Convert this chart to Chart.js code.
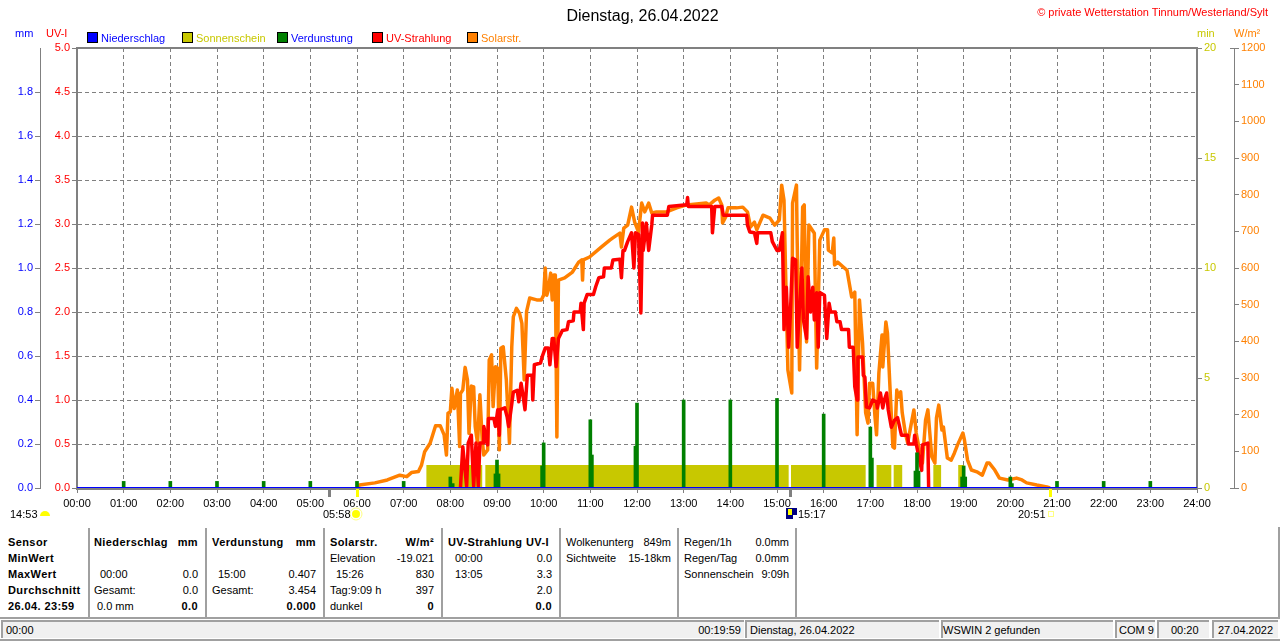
<!DOCTYPE html>
<html>
<head>
<meta charset="utf-8">
<title>Dienstag, 26.04.2022</title>
<script src="https://cdn.jsdelivr.net/npm/chart.js@4/dist/chart.umd.js"></script>
<style>
  html, body { margin: 0; padding: 0; background: #fff; overflow: hidden; }
  #page { position: relative; width: 1280px; height: 641px; font: 11px "Liberation Sans", Arial, sans-serif; color: #000; }
  #chart { position: absolute; left: 0; top: 0; }
  .t { position: absolute; line-height: 14px; white-space: nowrap; }
  .box { position: absolute; width: 9px; height: 9px; border: 1px solid #000; }
  .sep { position: absolute; background: #a0a0a0; }
  .panel { position: absolute; top: 620px; height: 18px; background: #f0f0f0; border-top: 2px solid #a0a0a0; border-left: 2px solid #a0a0a0; box-sizing: border-box; }
</style>
</head>
<body>
<div id="page"><canvas id="chart" width="1280" height="525"></canvas></div>
<script>
const hourMinutes = [0, 60, 120, 180, 240, 300, 360, 420, 480, 540, 600, 660, 720, 780, 840, 900, 960, 1020, 1080, 1140, 1200, 1260, 1320, 1380, 1440];

const rainMinutes = [0, 1440];
const rainValues = [0, 0];

const sunMinutes = [449, 521, 521, 525, 525, 915, 915, 918, 918, 1014, 1014, 1028, 1028, 1047, 1047, 1050, 1050, 1061, 1061, 1101, 1101, 1111, 1111, 1133, 1133, 1141];
const sunValues = [1.05, 1.05, 0, 0, 1.05, 1.05, 0, 0, 1.05, 1.05, 0, 0, 1.05, 1.05, 0, 0, 1.05, 1.05, 0, 0, 1.05, 1.05, 0, 0, 1.05, 1.05];

const evapMinutes = [60, 120, 180, 240, 300, 360, 420, 480, 483, 538, 542, 540, 598, 600, 662, 660, 718, 720, 780, 840, 900, 960, 1022, 1020, 1078, 1082, 1080, 1138, 1142, 1140, 1200, 1202, 1260, 1320, 1380];
const evapValues = [0.03, 0.03, 0.03, 0.03, 0.03, 0.03, 0.03, 0.05, 0.02, 0.064, 0.064, 0.127, 0.1, 0.205, 0.15, 0.31, 0.19, 0.386, 0.4, 0.4, 0.407, 0.336, 0.136, 0.277, 0.077, 0.077, 0.16, 0.05, 0.05, 0.1, 0.05, 0.02, 0.03, 0.03, 0.03];

const uvMinutes = [493, 496, 501, 503, 507, 510, 513, 516, 518, 522, 523, 528, 529, 536, 538, 541, 543, 544, 550, 553, 555, 558, 561, 566, 568, 571, 573, 576, 579, 585, 586, 588, 596, 598, 602, 606, 608, 611, 613, 616, 619, 624, 630, 632, 638, 639, 647, 648, 651, 652, 656, 664, 667, 671, 677, 678, 687, 689, 698, 700, 702, 704, 708, 713, 716, 718, 722, 725, 727, 728, 732, 735, 739, 740, 759, 761, 784, 785, 786, 816, 817, 820, 829, 831, 861, 862, 865, 871, 874, 875, 892, 894, 900, 903, 907, 909, 912, 915, 917, 920, 924, 926, 932, 934, 938, 940, 943, 946, 948, 951, 953, 955, 961, 964, 967, 969, 975, 977, 981, 983, 992, 993, 998, 1000, 1003, 1004, 1010, 1011, 1013, 1015, 1019, 1023, 1028, 1029, 1033, 1036, 1038, 1041, 1043, 1047, 1051, 1055, 1060, 1068, 1069, 1076, 1077, 1079, 1086, 1087, 1094, 1095];
const uvValues = [0, 0.47, 0.02, 0.51, 0.6, 0.02, 0.51, 0.02, 0.51, 0.51, 0.7, 0.49, 0.79, 0.79, 0.7, 0.89, 0.6, 0.89, 0.91, 0.81, 0.7, 0.89, 1.09, 1.11, 0.98, 1.19, 1.08, 0.89, 1.28, 1.28, 1.0, 1.4, 1.42, 1.49, 1.59, 1.59, 1.4, 1.7, 1.7, 1.38, 1.7, 1.79, 1.8, 1.89, 1.9, 2.0, 2.0, 2.1, 1.8, 2.1, 2.2, 2.2, 2.29, 2.39, 2.4, 2.5, 2.5, 2.59, 2.6, 2.39, 2.7, 2.7, 2.8, 2.9, 2.5, 2.9, 2.88, 1.99, 3.01, 2.7, 3.01, 2.7, 2.99, 3.1, 3.1, 3.2, 3.22, 3.3, 3.2, 3.2, 2.9, 3.2, 3.2, 3.1, 3.1, 2.99, 2.91, 2.9, 2.78, 2.9, 2.9, 2.8, 2.7, 2.7, 2.9, 1.8, 2.28, 1.6, 1.94, 2.61, 2.59, 1.6, 2.5, 1.91, 1.7, 2.4, 2.0, 2.28, 1.91, 2.22, 1.6, 2.22, 2.19, 1.7, 2.1, 2.0, 2.0, 1.89, 1.89, 1.8, 1.8, 1.6, 1.6, 1.15, 1.0, 1.49, 1.49, 1.28, 1.26, 0.92, 0.91, 1.0, 0.98, 0.91, 1.08, 0.91, 1.0, 1.08, 0.89, 0.69, 0.77, 0.8, 0.6, 0.6, 0.5, 0.5, 0.6, 0.5, 0.2, 0.49, 0.51, 0];

const solarMinutes = [361, 363, 383, 399, 415, 424, 430, 439, 443, 447, 454, 461, 467, 472, 475, 477, 480, 482, 485, 489, 492, 493, 496, 499, 502, 504, 507, 510, 512, 515, 518, 521, 523, 528, 530, 533, 535, 538, 541, 543, 545, 548, 552, 556, 559, 561, 565, 569, 572, 575, 578, 582, 591, 597, 600, 602, 604, 606, 609, 611, 613, 615, 617, 619, 627, 637, 645, 649, 650, 651, 659, 674, 685, 689, 698, 700, 703, 708, 713, 717, 722, 726, 730, 735, 739, 745, 758, 771, 784, 809, 813, 820, 825, 829, 830, 834, 837, 848, 856, 862, 866, 871, 874, 882, 891, 897, 903, 906, 909, 911, 914, 919, 920, 925, 926, 929, 933, 935, 938, 941, 948, 951, 955, 961, 965, 966, 971, 973, 974, 978, 990, 996, 1000, 1003, 1006, 1010, 1014, 1017, 1019, 1023, 1026, 1028, 1031, 1035, 1036, 1040, 1042, 1045, 1049, 1051, 1054, 1056, 1059, 1061, 1065, 1068, 1076, 1079, 1083, 1087, 1091, 1094, 1099, 1103, 1105, 1108, 1112, 1114, 1119, 1124, 1128, 1132, 1139, 1141, 1145, 1150, 1157, 1164, 1170, 1173, 1180, 1186, 1197, 1208, 1215, 1221, 1234, 1247, 1251];
const solarValues = [0, 8, 14, 22, 35, 31, 42, 45, 63, 99, 122, 170, 170, 145, 90, 204, 208, 272, 217, 267, 113, 258, 267, 329, 295, 149, 278, 276, 167, 122, 254, 131, 90, 104, 349, 363, 222, 331, 326, 104, 381, 385, 295, 122, 385, 467, 490, 476, 449, 295, 481, 518, 513, 513, 526, 600, 526, 540, 586, 513, 581, 581, 139, 567, 573, 589, 616, 622, 567, 622, 630, 657, 676, 682, 695, 657, 709, 717, 766, 725, 698, 777, 753, 777, 750, 753, 753, 764, 772, 777, 772, 785, 791, 772, 723, 739, 764, 764, 766, 753, 712, 725, 704, 744, 736, 717, 731, 826, 785, 594, 322, 259, 777, 826, 668, 322, 766, 772, 398, 717, 695, 327, 676, 704, 704, 649, 641, 682, 608, 616, 594, 521, 534, 145, 513, 395, 205, 177, 286, 286, 194, 145, 314, 417, 330, 453, 423, 286, 112, 109, 267, 248, 262, 205, 150, 123, 213, 150, 104, 68, 185, 213, 85, 68, 191, 226, 158, 166, 82, 76, 95, 117, 150, 131, 76, 49, 44, 35, 68, 68, 49, 27, 22, 27, 22, 14, 8, 3, 0];

const mmTicks = [0, 0.2, 0.4, 0.6, 0.8, 1.0, 1.2, 1.4, 1.6, 1.8];
const seriesNames = ['Niederschlag', 'Sonnenschein', 'Verdunstung', 'UV-Strahlung', 'Solarstr.'];
const seriesColors = ['#0000ff', '#c8c800', '#008000', '#ff0000', '#ff8000'];
const legendTextColors = ['#0000ff', '#c8c800', '#0000ff', '#ff0000', '#ff8000'];

// sunrise, sunset and the other day marks on the time axis, in minutes
const yellowMarks = [360, 1251];
const grayMarks = [324, 917];

const GRAY = '#808080';
const FONT = { family: '"Liberation Sans", Arial, sans-serif', size: 11 };

function toPoints(xs, ys) {
    return xs.map((x, i) => ({ x: x, y: ys[i] }));
}

function hhmm(v) {
    const h = Math.floor(v / 60);
    return (h < 10 ? '0' : '') + h + ':00';
}

const dayMarks = {
    id: 'dayMarks',
    beforeDatasetsDraw(chart) {
        const a = chart.chartArea;
        const c = chart.ctx;
        c.save();
        c.strokeStyle = GRAY;
        c.lineWidth = 2;
        c.strokeRect(a.left, a.top, a.right - a.left, a.bottom - a.top + 1);
        c.restore();
    },
    afterDraw(chart) {
        const a = chart.chartArea;
        const c = chart.ctx;
        const x = chart.scales.x;
        c.save();
        c.fillStyle = '#ffff00';
        yellowMarks.forEach(m => c.fillRect(Math.round(x.getPixelForValue(m)) - 1, a.bottom + 1, 3, 8));
        c.fillStyle = GRAY;
        grayMarks.forEach(m => c.fillRect(Math.round(x.getPixelForValue(m)) - 1, a.bottom, 3, 9));
        // caps of the outer W/m2 axis
        const wx = chart.scales.watt.left;
        c.fillRect(wx - 4, a.top, 4, 1);
        c.fillRect(wx - 4, a.bottom, 4, 1);
        // the little weather icons beside the times
        c.fillStyle = '#ffff00';
        c.beginPath();
        c.arc(45, 516, 5, Math.PI, 0);
        c.fill();
        c.beginPath();
        c.arc(356, 514, 4, 0, Math.PI * 2);
        c.fill();
        c.strokeStyle = '#ffff80';
        c.lineWidth = 1;
        c.beginPath();
        c.arc(356, 514, 6, 0, Math.PI * 2);
        c.stroke();
        c.strokeRect(1048.5, 511.5, 5, 5);
        c.fillStyle = '#000080';
        c.fillRect(786, 508, 11, 11);
        c.fillStyle = '#ffff00';
        c.fillRect(788, 509, 4, 6);
        c.fillStyle = '#ffffff';
        c.fillRect(793, 515, 4, 4);
        c.restore();
    }
};

new Chart(document.getElementById('chart'), {
    type: 'line',
    data: {
        datasets: [
            { label: seriesNames[0], data: toPoints(rainMinutes, rainValues), yAxisID: 'mm', borderColor: seriesColors[0], borderWidth: 2, pointRadius: 0, order: 1 },
            { type: 'bar', label: seriesNames[2], data: toPoints(evapMinutes, evapValues), yAxisID: 'mm', backgroundColor: seriesColors[2], barThickness: 3, order: 2 },
            { label: seriesNames[3], data: toPoints(uvMinutes, uvValues), yAxisID: 'uv', borderColor: seriesColors[3], borderWidth: 3.5, borderJoinStyle: 'round', pointRadius: 0, order: 3 },
            { label: seriesNames[4], data: toPoints(solarMinutes, solarValues), yAxisID: 'watt', borderColor: seriesColors[4], borderWidth: 3.5, borderJoinStyle: 'round', pointRadius: 0, order: 4 },
            { label: seriesNames[1], data: toPoints(sunMinutes, sunValues), yAxisID: 'sun', borderWidth: 0, backgroundColor: seriesColors[1], fill: 'origin', pointRadius: 0, order: 5 }
        ]
    },
    plugins: [dayMarks],
    options: {
        responsive: false,
        animation: false,
        events: [],
        layout: { padding: { left: 5 } },
        plugins: {
            legend: { display: false },
            tooltip: { enabled: false },
            title: {
                display: true,
                text: 'Dienstag, 26.04.2022',
                color: '#000',
                font: { family: FONT.family, size: 16, weight: 'normal', lineHeight: 1.25 },
                padding: { top: 7, bottom: 21 }
            }
        },
        scales: {
            x: {
                type: 'linear', min: 0, max: 1440, offset: false,
                afterBuildTicks(s) { s.ticks = hourMinutes.map(v => ({ value: v })); },
                afterFit(s) { s.height = 37; },
                ticks: { callback: hhmm, color: '#000', font: FONT, autoSkip: false, maxRotation: 0, padding: 4 },
                // the bar dataset would otherwise move the grid between the ticks
                grid: { offset: false, color: GRAY, tickColor: GRAY, tickLength: 5 },
                border: { color: GRAY, width: 2, dash: [4, 3] }
            },
            // left axes stack outward in reverse order, so uv stays next to the plot
            uv: {
                position: 'left', min: 0, max: 5,
                afterFit(s) { s.width = 37; },
                ticks: { stepSize: 0.5, callback: v => v.toFixed(1), color: '#ff0000', font: FONT, padding: 2 },
                grid: { color: GRAY, tickColor: GRAY, tickLength: 5 },
                border: { color: GRAY, width: 2, dash: [4, 3] }
            },
            mm: {
                position: 'left', min: 0, max: 2,
                afterBuildTicks(s) { s.ticks = mmTicks.map(v => ({ value: v })); },
                afterFit(s) { s.width = 35; },
                ticks: { callback: v => v.toFixed(1), color: '#0000ff', font: FONT, padding: 2 },
                grid: { drawOnChartArea: false, tickColor: GRAY, tickLength: 5 },
                border: { color: GRAY, width: 1 }
            },
            sun: {
                position: 'right', min: 0, max: 20,
                afterFit(s) { s.width = 37; },
                ticks: { stepSize: 5, color: '#c8c800', font: FONT, padding: 2 },
                grid: { drawOnChartArea: false, tickColor: GRAY, tickLength: 5 },
                border: { color: GRAY, width: 2 }
            },
            watt: {
                position: 'right', min: 0, max: 1200,
                afterFit(s) { s.width = 46; },
                ticks: { stepSize: 100, callback: v => String(v), color: '#ff8000', font: FONT, padding: 2 },
                grid: { drawOnChartArea: false, tickColor: GRAY, tickLength: 5 },
                border: { color: GRAY, width: 1 }
            }
        }
    }
});

const page = document.getElementById('page');

// x is the left edge, or the right edge with align 'r'; y is the middle of the line
function txt(text, x, y, align, bold, color) {
    const el = document.createElement('div');
    el.className = 't';
    el.textContent = text;
    el.style.left = x + 'px';
    el.style.top = (y - 7) + 'px';
    if (align === 'r') el.style.transform = 'translateX(-100%)';
    if (bold) {
        el.style.fontWeight = 'bold';
        el.style.letterSpacing = '0.4px';
    }
    if (color) el.style.color = color;
    page.appendChild(el);
}

function rect(cls, x, y, w, h, color) {
    const el = document.createElement('div');
    el.className = cls;
    el.style.left = x + 'px';
    el.style.top = y + 'px';
    if (w) el.style.width = w + 'px';
    if (h) el.style.height = h + 'px';
    if (color) el.style.background = color;
    page.appendChild(el);
}

// legend
seriesNames.forEach((name, i) => {
    rect('box', 87 + 95 * i, 32, 0, 0, seriesColors[i]);
    txt(name, 101 + 95 * i, 38, 'l', false, legendTextColors[i]);
});

txt('\u00a9 private Wetterstation Tinnum/Westerland/Sylt', 1268, 12, 'r', false, '#ff0000');
txt('mm', 15, 33, 'l', false, '#0000ff');
txt('UV-I', 46, 33, 'l', false, '#ff0000');
txt('min', 1197, 33, 'l', false, '#c8c800');
txt('W/m\u00b2', 1234, 33, 'l', false, '#ff8000');

txt('14:53', 10, 514);
txt('05:58', 323, 514);
txt('15:17', 798, 514);
txt('20:51', 1018, 514);

// table
const rowY = [542, 558, 574, 590, 606];
[88, 205, 323, 441, 559, 677, 795].forEach(x => rect('sep', x, 528, 2, 90));
rect('sep', 0, 617, 1280, 2);
rect('sep', 1278, 527, 2, 91);

['Sensor', 'MinWert', 'MaxWert', 'Durchschnitt', '26.04. 23:59'].forEach((s, i) => txt(s, 8, rowY[i], 'l', true));

txt('Niederschlag', 94, rowY[0], 'l', true);
txt('mm', 198, rowY[0], 'r', true);
txt('00:00', 100, rowY[2]);
txt('0.0', 198, rowY[2], 'r');
txt('Gesamt:', 94, rowY[3]);
txt('0.0', 198, rowY[3], 'r');
txt('0.0 mm', 97, rowY[4]);
txt('0.0', 198, rowY[4], 'r', true);

txt('Verdunstung', 212, rowY[0], 'l', true);
txt('mm', 316, rowY[0], 'r', true);
txt('15:00', 218, rowY[2]);
txt('0.407', 316, rowY[2], 'r');
txt('Gesamt:', 212, rowY[3]);
txt('3.454', 316, rowY[3], 'r');
txt('0.000', 316, rowY[4], 'r', true);

txt('Solarstr.', 330, rowY[0], 'l', true);
txt('W/m\u00b2', 434, rowY[0], 'r', true);
txt('Elevation', 330, rowY[1]);
txt('-19.021', 434, rowY[1], 'r');
txt('15:26', 336, rowY[2]);
txt('830', 434, rowY[2], 'r');
txt('Tag:9:09 h', 330, rowY[3]);
txt('397', 434, rowY[3], 'r');
txt('dunkel', 330, rowY[4]);
txt('0', 434, rowY[4], 'r', true);

txt('UV-Strahlung UV-I', 448, rowY[0], 'l', true);
txt('00:00', 455, rowY[1]);
txt('0.0', 552, rowY[1], 'r');
txt('13:05', 455, rowY[2]);
txt('3.3', 552, rowY[2], 'r');
txt('2.0', 552, rowY[3], 'r');
txt('0.0', 552, rowY[4], 'r', true);

txt('Wolkenunterg', 566, rowY[0]);
txt('849m', 671, rowY[0], 'r');
txt('Sichtweite', 566, rowY[1]);
txt('15-18km', 671, rowY[1], 'r');

txt('Regen/1h', 684, rowY[0]);
txt('0.0mm', 789, rowY[0], 'r');
txt('Regen/Tag', 684, rowY[1]);
txt('0.0mm', 789, rowY[1], 'r');
txt('Sonnenschein', 684, rowY[2]);
txt('9:09h', 789, rowY[2], 'r');

// status bar
[[1, 743], [745, 194], [941, 172], [1115, 40], [1157, 52], [1212, 66]].forEach(p => rect('panel', p[0], 620, p[1]));
rect('sep', 0, 639, 1280, 2);
txt('00:00', 6, 630);
txt('00:19:59', 741, 630, 'r');
txt('Dienstag, 26.04.2022', 750, 630);
txt('WSWIN 2 gefunden', 943, 630);
txt('COM 9', 1119, 630);
txt('00:20', 1171, 630);
txt('27.04.2022', 1218, 630);
</script>
</body>
</html>
